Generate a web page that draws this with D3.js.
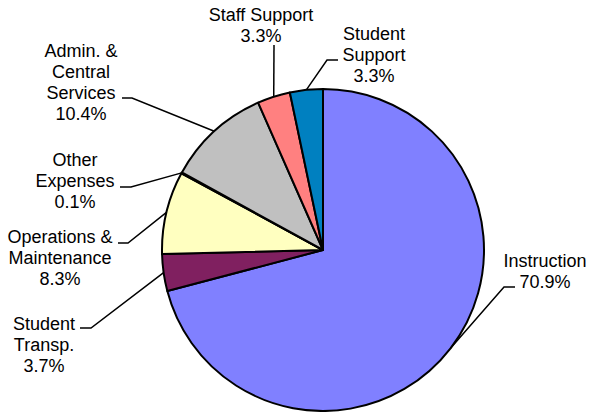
<!DOCTYPE html>
<html><head><meta charset="utf-8">
<script src="https://cdn.jsdelivr.net/npm/d3@7"></script>
<style>body{margin:0;background:#fff}svg{display:block}text{font-family:"Liberation Sans",Arial,sans-serif;font-size:18px;fill:#000}</style>
</head><body><svg id="c" width="593" height="412"></svg>
<script>
const categories = ["Instruction","Student Transp.","Operations & Maintenance","Other Expenses","Admin. & Central Services","Staff Support","Student Support"];
const labelLines = [["Instruction"],["Student","Transp."],["Operations &","Maintenance"],["Other","Expenses"],["Admin. &","Central","Services"],["Staff Support"],["Student","Support"]];
const values = [70.9,3.7,8.3,0.1,10.4,3.3,3.3];
const colors = ["#8080FF","#802060","#FFFFC0","#A0E0E0","#C0C0C0","#FF8080","#0080C0"];
// label layout: text centre x, first baseline y, leader start, leader elbow (px)
const labelLayout = [
  {cx:545,by:267,lead:[[515,287],[504,287]]},
  {cx:44,by:330,lead:[[80,328],[91,328]]},
  {cx:60,by:243,lead:[[118,243],[128,243]]},
  {cx:75,by:166,lead:[[120,187],[131,187]]},
  {cx:81,by:57,lead:[[122,98],[132,98]]},
  {cx:261,by:21,lead:[[274,45]]},
  {cx:374,by:40,lead:[[338,60],[327,60]]}
];
const cx=323, cy=250, r=161, lh=21;
const svg=d3.select("#c");
const pie=d3.pie().sort(null).value(d=>d)(values);
const arc=d3.arc().innerRadius(0).outerRadius(r);
const g=svg.append("g").attr("transform",`translate(${cx},${cy})`);
g.selectAll("path").data(pie).join("path").attr("d",arc)
  .attr("fill",(d,i)=>colors[i]).attr("stroke","#000").attr("stroke-width",2).attr("stroke-linejoin","round");
pie.forEach((d,i)=>{
  const L=labelLayout[i];
  const a=(d.startAngle+d.endAngle)/2;
  const pt=[cx+r*Math.sin(a), cy-r*Math.cos(a)];
  const pts=L.lead.concat([pt]);
  svg.append("path").attr("d",d3.line()(pts)).attr("fill","none").attr("stroke","#000").attr("stroke-width",1.5);
  const lines=labelLines[i].concat([d3.format(".1f")(values[i])+"%"]);
  const t=svg.append("text").attr("text-anchor","middle");
  lines.forEach((s,k)=>t.append("tspan").attr("x",L.cx).attr("y",L.by+k*lh).text(s));
});
</script></body></html>
